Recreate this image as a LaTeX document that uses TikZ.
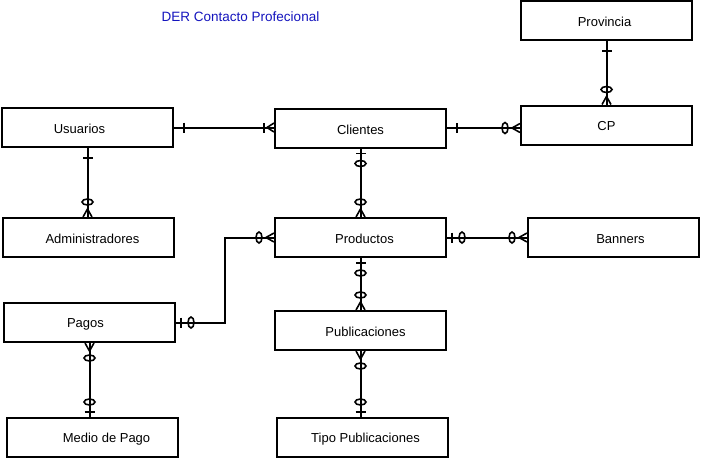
\documentclass[tikz,border=0pt]{standalone}
\usepackage{fontspec}
\setmainfont{Liberation Sans}
\usepackage{xcolor}

\tikzset{
  entity/.style={draw=drawColor,line width=2pt,minimum width=171pt,minimum height=39pt,inner sep=0pt},
  tag/.style={text=drawColor,inner sep=0pt,yshift=-1.5pt,font=\fontsize{13}{15}\selectfont},
  link/.style={draw=drawColor,line width=2pt},
  mark line/.style={draw=drawColor,line width=1.6pt},
  pics/onebar/.style={code={
    \path[mark line] (10,-5) -- (10,5);}},
  pics/zeroone/.style={code={
    \path[mark line] (5,-5) -- (5,5);
    \path[mark line] (15,0) ellipse [x radius=3, y radius=5.5];}},
  pics/zeromany/.style={code={
    \path[mark line] (0,-4.5) -- (8,0) -- (0,4.5);
    \path[mark line] (15,0) ellipse [x radius=3, y radius=5.5];}},
  pics/onemany/.style={code={
    \path[mark line] (0,-4.5) -- (7,0) -- (0,4.5);
    \path[mark line] (10,-5) -- (10,5);}}
}

\begin{document}
\begin{tikzpicture}[x=1pt,y=-1pt]
\definecolor{fillColor}{RGB}{255,255,255}
\definecolor{drawColor}{RGB}{0,0,0}
\definecolor{titleColor}{RGB}{20,20,190}
\path[use as bounding box,fill=fillColor] (0,0) rectangle (703,463);

% title
\node[tag,yshift=0pt,text=titleColor,font=\fontsize{13.5}{16}\selectfont] (title) at (240.5,15) {DER Contacto Profecional};

% entities
\node[entity,label={[tag,xshift=-2pt]center:Provincia}] (provincia) at (606.5,20.5) {};
\node[entity,label={[tag,xshift=-8pt]center:Usuarios}] (usuarios) at (87.5,127.5) {};
\node[entity,label={[tag]center:Clientes}] (clientes) at (360.5,128) {};
\node[entity,label={[tag]center:CP}] (cp) at (606.5,125) {};
\node[entity,label={[tag,xshift=4pt]center:Administradores}] (admin) at (88.5,237.5) {};
\node[entity,label={[tag,xshift=4pt]center:Productos}] (productos) at (360.5,237.5) {};
\node[entity,label={[tag,xshift=7pt]center:Banners}] (banners) at (613.5,237.5) {};
\node[entity,label={[tag,xshift=-4pt]center:Pagos}] (pagos) at (89.5,322.5) {};
\node[entity,label={[tag,xshift=5pt]center:Publicaciones}] (publicaciones) at (360.5,330.5) {};
\node[entity,label={[tag,xshift=14pt]center:Medio de Pago}] (medio) at (92.5,437.5) {};
\node[entity,label={[tag,xshift=3pt]center:Tipo Publicaciones}] (tipo) at (362.5,437.5) {};

% relations
\coordinate (jog) at (225,280);
\path[link] (usuarios.east) -- (usuarios.east -| clientes.west);
\path[link] (clientes.east) -- (clientes.east -| cp.west);
\path[link] (provincia.south) -- (cp.north);
\path[link] (usuarios.south) -- (usuarios.south |- admin.north);
\path[link] (clientes.south) -- (productos.north);
\path[link] (pagos.east) -- (pagos.east -| jog) |- (productos.west);
\path[link] (productos.east) -- (banners.west);
\path[link] (productos.south) -- (publicaciones.north);
\path[link] (publicaciones.south) -- (publicaciones.south |- tipo.north);
\path[link] (pagos.south) -- (pagos.south |- medio.north);

% cardinality marks
\pic at (usuarios.east) {onebar};
\pic[rotate=180] at (usuarios.east -| clientes.west) {onemany};
\pic at (clientes.east) {onebar};
\pic[rotate=180] at (clientes.east -| cp.west) {zeromany};
\pic[rotate=-90] at (provincia.south) {onebar};
\pic[rotate=90] at (cp.north) {zeromany};
\pic[rotate=-90] at (usuarios.south) {onebar};
\pic[rotate=90] at (usuarios.south |- admin.north) {zeromany};
\pic[rotate=-90] at (clientes.south) {zeroone};
\pic[rotate=90] at (productos.north) {zeromany};
\pic at (pagos.east) {zeroone};
\pic[rotate=180] at (productos.west) {zeromany};
\pic at (productos.east) {zeroone};
\pic[rotate=180] at (banners.west) {zeromany};
\pic[rotate=-90] at (productos.south) {zeroone};
\pic[rotate=90] at (publicaciones.north) {zeromany};
\pic[rotate=-90] at (publicaciones.south) {zeromany};
\pic[rotate=90] at (publicaciones.south |- tipo.north) {zeroone};
\pic[rotate=-90] at (pagos.south) {zeromany};
\pic[rotate=90] at (pagos.south |- medio.north) {zeroone};
\end{tikzpicture}
\end{document}
